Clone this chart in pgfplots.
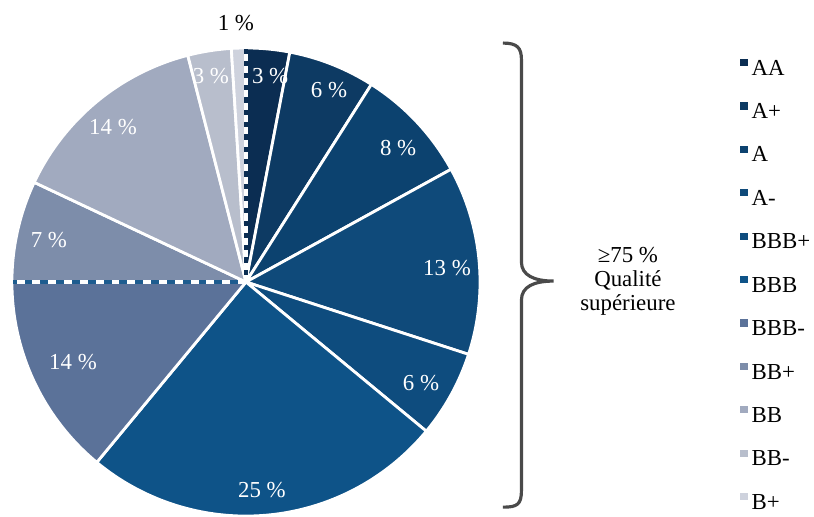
\documentclass[border=0pt]{standalone}
\usepackage{pgfplots}
\usepackage{pgfplotstable}
\pgfplotsset{compat=1.18}
\usepackage{fontspec}
\setmainfont{Liberation Serif}

\definecolor{c0}{HTML}{0B2D52}
\definecolor{c1}{HTML}{0D3A63}
\definecolor{c2}{HTML}{0C426F}
\definecolor{c3}{HTML}{0F4A7A}
\definecolor{c4}{HTML}{0E4C7E}
\definecolor{c5}{HTML}{0E5388}
\definecolor{c6}{HTML}{5B7299}
\definecolor{c7}{HTML}{7D8DAA}
\definecolor{c8}{HTML}{A1AABF}
\definecolor{c9}{HTML}{B8BECC}
\definecolor{c10}{HTML}{CED2DD}
\definecolor{dashblue}{HTML}{1D5C8F}
\definecolor{bracegray}{HTML}{4A4A4A}

\pgfplotstableread{
label value lx ly
AA 3 0.103 0.880
A+ 6 0.355 0.821
A 8 0.650 0.573
A- 13 0.859 0.060
BBB+ 6 0.748 -0.432
BBB 25 0.068 -0.889
BBB- 14 -0.739 -0.342
BB+ 7 -0.842 0.179
BB 14 -0.568 0.662
BB- 3 -0.150 0.880
B+ 1 -0.043 1.107
}\piedata
\pgfplotstablecreatecol[expr accum={\pgfmathaccuma+\thisrow{value}}{0}]{cum}{\piedata}

\pgfplotsset{sq/.style={color=#1, legend image code/.code={\fill (0pt,2.2pt) rectangle (3.6pt,5.8pt);}}}

\begin{document}
\begin{tikzpicture}
\begin{axis}[
  x=4.68cm, y=4.68cm,
  xmin=-1.051, xmax=2.427, ymin=-1.004, ymax=1.205,
  hide axis, clip=false,
  legend style={at={(axis cs:2.088,0.970)}, anchor=north west, draw=none, fill=none,
    font=\fontsize{13}{15}\selectfont, row sep=12.95pt, column sep=2.5pt,
    nodes={inner sep=0pt, text height=9pt, text depth=2.5pt}},
  legend cell align=left,
]
\pgfplotsinvokeforeach{0,...,10}{
  \pgfplotstablegetelem{#1}{cum}\of\piedata \let\cumE\pgfplotsretval
  \pgfplotstablegetelem{#1}{value}\of\piedata \let\val\pgfplotsretval
  \pgfmathsetmacro\aA{90-3.6*(\cumE-\val)}
  \pgfmathsetmacro\aB{90-3.6*\cumE}
  \addplot[forget plot, draw=white, line width=1.6pt, fill=c#1, domain=\aB:\aA, samples=80, line join=round]
    ({cos(x)},{sin(x)}) -- (axis cs:0,0) -- cycle;
}
% boundary lines (75 % quality split)
\addplot[forget plot, c0, line width=2pt] coordinates {(0,0) (0,0.995)};
\addplot[forget plot, white, line width=2pt, dash pattern=on 4pt off 3pt] coordinates {(0,0) (0,0.995)};
\addplot[forget plot, dashblue, line width=2.3pt] coordinates {(0,0) (-0.995,0)};
\addplot[forget plot, white, line width=2.3pt, dash pattern=on 4.5pt off 4.5pt] coordinates {(0,0) (-0.995,0)};
% percentage labels
\addplot[forget plot, only marks, mark=none, nodes near coords={\pgfplotspointmeta~\%},
  point meta=explicit symbolic, nodes near coords align=center,
  every node near coord/.append style={white, font=\fontsize{13}{15}\selectfont},
  skip coords between index={10}{11}]
  table[x=lx, y=ly, meta=value] {\piedata};
\addplot[forget plot, only marks, mark=none, nodes near coords={\pgfplotspointmeta~\%},
  point meta=explicit symbolic, nodes near coords align=center,
  every node near coord/.append style={black, font=\fontsize{13}{15}\selectfont},
  skip coords between index={0}{10}]
  table[x=lx, y=ly, meta=value] {\piedata};
% brace
\draw[bracegray, line width=1.8pt]
  (axis cs:1.098,1.021) .. controls (axis cs:1.16,1.021) and (axis cs:1.177,1.0) .. (axis cs:1.177,0.949)
  -- (axis cs:1.177,0.085) .. controls (axis cs:1.177,0.03) and (axis cs:1.23,0.004) .. (axis cs:1.314,0.004)
  .. controls (axis cs:1.23,0.004) and (axis cs:1.177,-0.02) .. (axis cs:1.177,-0.077)
  -- (axis cs:1.177,-0.890) .. controls (axis cs:1.177,-0.95) and (axis cs:1.16,-0.962) .. (axis cs:1.098,-0.962);
\node[align=center, font=\fontsize{13}{13.7}\selectfont] at (axis cs:1.632,0.004) {≥75 \%\\Qualité\\supérieure};
% legend
\addlegendimage{sq=c0}\addlegendentry{AA}
\addlegendimage{sq=c1}\addlegendentry{A+}
\addlegendimage{sq=c2}\addlegendentry{A}
\addlegendimage{sq=c3}\addlegendentry{A-}
\addlegendimage{sq=c4}\addlegendentry{BBB+}
\addlegendimage{sq=c5}\addlegendentry{BBB}
\addlegendimage{sq=c6}\addlegendentry{BBB-}
\addlegendimage{sq=c7}\addlegendentry{BB+}
\addlegendimage{sq=c8}\addlegendentry{BB}
\addlegendimage{sq=c9}\addlegendentry{BB-}
\addlegendimage{sq=c10}\addlegendentry{B+}
\end{axis}
\pgfresetboundingbox
\path (current axis.south west) rectangle (current axis.north east);
\end{tikzpicture}
\end{document}
